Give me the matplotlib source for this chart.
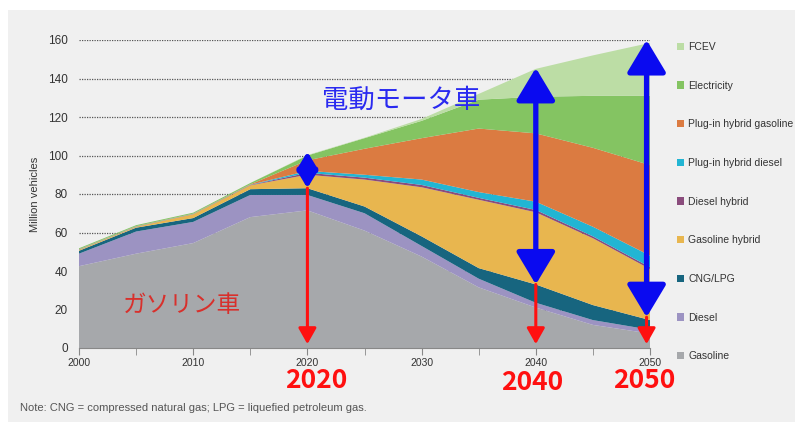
import matplotlib.pyplot as plt
from matplotlib.patches import Rectangle, Patch
import numpy as np

# years and cumulative tops (million vehicles)
years = [2000, 2005, 2010, 2015, 2020, 2025, 2030, 2035, 2040, 2045, 2050]
top_gasoline = [42.5, 49, 54.5, 68, 71.5, 61, 47.5, 31.5, 21, 12, 7.5]
top_diesel = [49, 60.5, 65.5, 79.5, 79.5, 70, 53, 36, 23.5, 14.5, 9.5]
top_cng = [50.5, 62.5, 67.5, 82.5, 83, 73.5, 58, 41.5, 33, 22.3, 14.5]
top_gas_hybrid = [51, 63, 69.5, 84.5, 90, 87.5, 83.5, 77, 70.5, 57, 41]
top_diesel_hybrid = [51.1, 63.1, 69.6, 84.7, 91, 88.5, 84.7, 78, 71.7, 58, 42]
top_phev_diesel = [51.2, 63.2, 69.7, 84.8, 92, 90, 87.5, 81, 76, 63, 48]
top_phev_gas = [51.3, 63.3, 69.8, 85, 97.5, 103.5, 109, 114, 111.5, 104, 95]
top_electric = [51.8, 63.8, 70.3, 85.7, 100, 109, 118, 129, 130.5, 131, 131]
top_fcev = [51.8, 63.8, 70.3, 85.7, 100.2, 109.2, 119, 132, 145, 152, 158.5]

labels = ['Gasoline', 'Diesel', 'CNG/LPG', 'Gasoline hybrid', 'Diesel hybrid',
          'Plug-in hybrid diesel', 'Plug-in hybrid gasoline', 'Electricity', 'FCEV']
colors = ['#a6a8ab', '#9c93c2', '#17657f', '#e8b64f', '#8a4c7c',
          '#22b5d3', '#db7b41', '#84c462', '#bcdda5']

# arrows: (year, bottom, top) for the electric part, red goes from bottom to 0
arrow_years = [2020, 2040, 2049.7]
arrow_bottoms = [83, 33, 16]
arrow_tops = [102, 145.5, 160]
year_labels = ['2020', '2040', '2050']

tops = [top_gasoline, top_diesel, top_cng, top_gas_hybrid, top_diesel_hybrid,
        top_phev_diesel, top_phev_gas, top_electric, top_fcev]
layers = np.diff(np.vstack([np.zeros(len(years))] + [np.array(t) for t in tops]), axis=0)

narrow = ['Liberation Sans', 'DejaVu Sans']
jp = ['Noto Sans CJK JP', 'DejaVu Sans']

fig = plt.figure(figsize=(7.95, 4.22), dpi=100, facecolor='white')
fig.patches.append(Rectangle((8 / 795, 0), 1, (422 - 10) / 422, transform=fig.transFigure,
                             facecolor='#f0f0f0', edgecolor='none', zorder=-10))

ax = fig.add_axes([79 / 795, (422 - 348) / 422, (650 - 79) / 795, (348 - 40) / 422])
ax.set_facecolor('none')

ax.stackplot(years, layers, colors=colors, labels=labels, linewidth=0)

ax.set_xlim(2000, 2050)
ax.set_ylim(0, 160)
ax.set_yticks(range(0, 161, 20))
ax.set_xticks(range(2000, 2051, 10))
ax.set_xticks(range(2005, 2050, 10), minor=True)
ax.grid(axis='y', linestyle=(0, (1, 1)), color='#555555', linewidth=0.9)
ax.set_axisbelow(True)
for s in ['left', 'top', 'right']:
    ax.spines[s].set_visible(False)
ax.spines['bottom'].set_color('#888888')
ax.tick_params(axis='y', length=0, labelsize=8.5, labelcolor='#333333', pad=8)
ax.tick_params(axis='x', which='both', length=5, color='#888888', labelsize=7.5,
               labelcolor='#333333', direction='out', pad=2)
for t in ax.get_xticklabels() + ax.get_yticklabels():
    t.set_family(narrow)
ax.set_ylabel('Million vehicles', fontsize=8, color='#333333', family=narrow, labelpad=6)

# blue / red arrows
for x, b, t in zip(arrow_years, arrow_bottoms, arrow_tops):
    ax.annotate('', xy=(x, 2), xytext=(x, b), annotation_clip=False,
                arrowprops=dict(arrowstyle='-|>,head_length=0.8,head_width=0.45',
                                color='#ff1010', lw=2.2, mutation_scale=12,
                                shrinkA=0, shrinkB=0))
    scale = 10 if t - b < 30 else 20
    ax.annotate('', xy=(x, t), xytext=(x, b), annotation_clip=False,
                arrowprops=dict(arrowstyle='<|-|>,head_length=1.0,head_width=0.6',
                                color='#0a0af0', lw=3.8, mutation_scale=scale,
                                shrinkA=0, shrinkB=0))

ax.text(2021.3, 128.5, '電動モータ車', color='#2a2af0', fontsize=19, family=jp,
        va='center', ha='left')
ax.text(2003.8, 22, 'ガソリン車', color='#d8302c', fontsize=17, family=jp,
        va='center', ha='left')

label_px = [(316, 380), (532, 383), (644, 380)]
for (px, py), lab in zip(label_px, year_labels):
    fig.text(px / 795, 1 - py / 422, lab, color='#ff1010', fontsize=19, fontweight='bold',
             family=jp, ha='center', va='center')

fig.text(20 / 795, 1 - 408 / 422,
         'Note: CNG = compressed natural gas; LPG = liquefied petroleum gas.',
         fontsize=8, color='#555555', family=narrow, va='center', ha='left')

handles = [Patch(facecolor=c, edgecolor='none') for c in colors][::-1]
fig.legend(handles, labels[::-1], loc='upper left', bbox_to_anchor=(677 / 795, 1 - 42 / 422),
           frameon=False, handlelength=0.7, handleheight=0.7, handletextpad=0.4,
           labelspacing=2.75, borderaxespad=0, borderpad=0, labelcolor='#333333',
           prop={'family': narrow, 'size': 7.5})

fig.savefig('out.png', dpi=100)
